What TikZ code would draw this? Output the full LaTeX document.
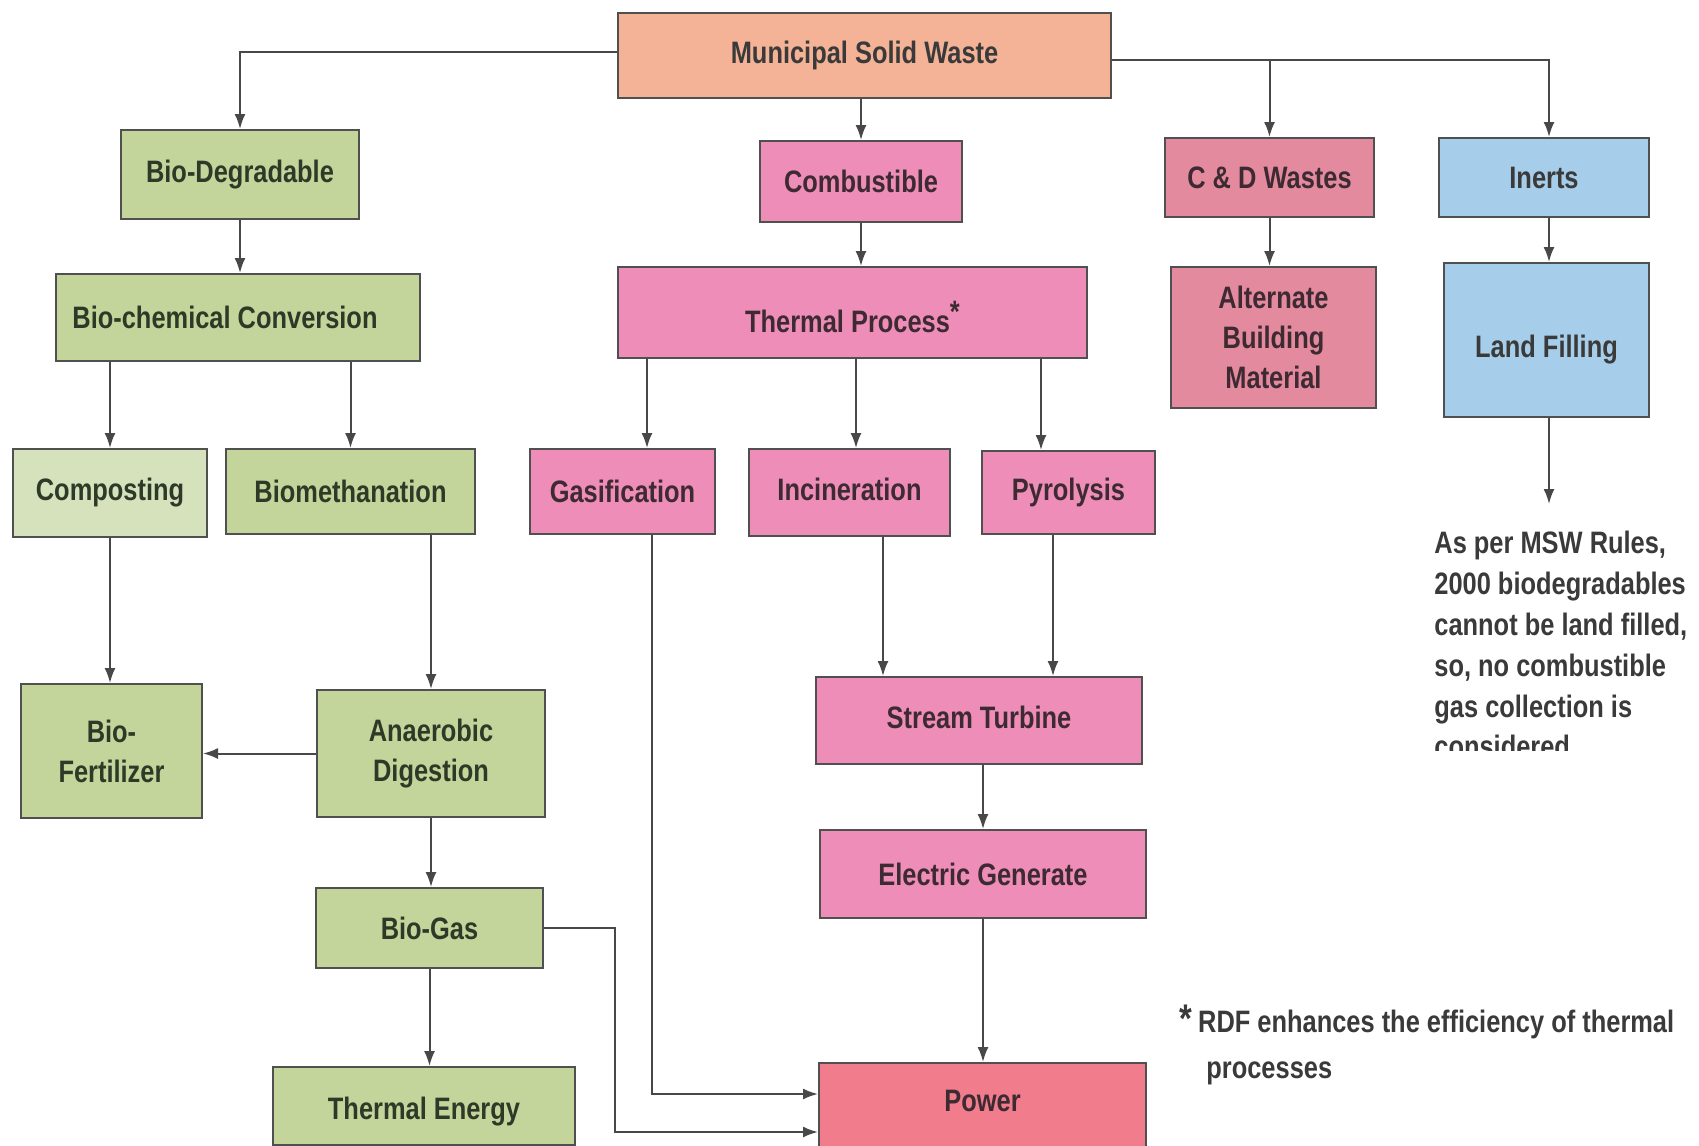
\documentclass[tikz,border=0pt]{standalone}
\usepackage{fontspec}
\setmainfont{Liberation Sans}[FakeStretch=0.82]
\usetikzlibrary{arrows.meta,calc}
\definecolor{mswfill}{RGB}{244,178,150}
\definecolor{greenfill}{RGB}{196,213,155}
\definecolor{lightgreen}{RGB}{214,226,188}
\definecolor{pinkfill}{RGB}{238,141,183}
\definecolor{rosefill}{RGB}{228,138,158}
\definecolor{bluefill}{RGB}{166,206,234}
\definecolor{powerfill}{RGB}{240,124,140}
\definecolor{boxline}{RGB}{80,80,80}
\definecolor{txt}{RGB}{58,58,58}
\definecolor{gtxt}{RGB}{46,58,40}
\definecolor{ptxt}{RGB}{62,42,50}
\newcommand\bxfont{\fontsize{15.5}{20}\selectfont\bfseries}
\newcommand\notefont{\fontsize{15.5}{20.4}\selectfont\bfseries}
\newcommand\fnfont{\fontsize{15.5}{23}\selectfont\bfseries}
\newcommand\shifttext[2]{\raisebox{#1}[\height][\depth]{#2}}
\begin{document}
\begin{tikzpicture}[x=0.5pt,y=-0.5pt,
  box/.style={draw=boxline, line width=1pt, inner sep=0pt, align=center, font=\bxfont, text=txt},
  gbox/.style={box, fill=greenfill, text=gtxt},
  pbox/.style={box, fill=pinkfill, text=ptxt},
  rbox/.style={box, fill=rosefill, text=ptxt},
  bbox/.style={box, fill=bluefill, text=txt},
  arr/.style={draw=boxline!90!black, line width=1pt, -{Latex[length=7.5pt,width=5.5pt]}},
  note/.style={inner sep=0pt, align=left, font=\bxfont, text=txt}]
\path[use as bounding box, fill=white] (0,0) rectangle (1699,1146);
\clip (0,0) rectangle (1699,1146);

% nodes
\node[box, fill=mswfill] (msw) at (864.5,55.5) [minimum width=246.5pt, minimum height=42.5pt] {Municipal Solid Waste};
\node[gbox] (biodeg) at (240,174.5) [minimum width=119pt, minimum height=44.5pt] {Bio-Degradable};
\node[pbox] (comb) at (861,181.5) [minimum width=101pt, minimum height=40.5pt] {Combustible};
\node[rbox] (cd) at (1269.5,177.5) [minimum width=104.5pt, minimum height=39.5pt] {C \& D Wastes};
\node[bbox] (inerts) at (1544,177.5) [minimum width=105pt, minimum height=39.5pt] {Inerts};
\node[gbox] (biochem) at (238,317.5) [minimum width=182pt, minimum height=43.5pt] {Bio-chemical Conversion\hspace*{13pt}};
\node[pbox] (thermal) at (852.5,312.5) [minimum width=234.5pt, minimum height=45.5pt] {\shifttext{-2pt}{Thermal Process\raisebox{5pt}{*}}};
\node[rbox] (alt) at (1273.5,337.5) [minimum width=102.5pt, minimum height=70.5pt] {Alternate\\Building\\Material};
\node[bbox] (land) at (1546.5,340) [minimum width=102.5pt, minimum height=77pt] {\shifttext{-5pt}{Land Filling}};
\node[gbox, fill=lightgreen] (compost) at (110,493) [minimum width=97pt, minimum height=44pt] {Composting};
\node[gbox] (biometh) at (350.5,491.5) [minimum width=124.5pt, minimum height=42.5pt] {Biomethanation};
\node[pbox] (gasif) at (622.5,491.5) [minimum width=92.5pt, minimum height=42.5pt] {Gasification};
\node[pbox] (incin) at (849.5,492.5) [minimum width=100.5pt, minimum height=43.5pt] {\shifttext{1.5pt}{Incineration}};
\node[pbox] (pyro) at (1068.5,492.5) [minimum width=86.5pt, minimum height=41.5pt] {Pyrolysis};
\node[gbox] (biofert) at (111.5,751) [minimum width=90.5pt, minimum height=67pt] {Bio-\\Fertilizer};
\node[gbox] (anaer) at (431,753.5) [minimum width=114pt, minimum height=63.5pt] {Anaerobic\\Digestion};
\node[pbox] (stream) at (979,720.5) [minimum width=163pt, minimum height=43.5pt] {\shifttext{1.5pt}{Stream Turbine}};
\node[pbox] (elec) at (983,874) [minimum width=163pt, minimum height=44pt] {Electric Generate};
\node[gbox] (biogas) at (429.5,928) [minimum width=113.5pt, minimum height=40pt] {Bio-Gas};
\node[gbox] (therme) at (424,1106) [minimum width=151pt, minimum height=39pt] {\shifttext{-3pt}{Thermal Energy}};
\node[box, fill=powerfill, anchor=north] (power) at (982.5,1062) [minimum width=163.5pt, minimum height=60pt] {};
\node[note, text=ptxt] (powerlbl) at (982.5,1101) {Power};

% notes
\begin{scope}
\clip (1400,480) rectangle (1699,750);
\node[note, anchor=north west, font=\notefont] (rules) at (1434,531) {As per MSW Rules,\\2000 biodegradables\\cannot be land filled,\\so, no combustible\\gas collection is\\considered};
\end{scope}
\node[note, anchor=base west, font=\fnfont] (rdf) at (1179,1078) {{\fontsize{20}{20}\selectfont *}\hspace{3pt}RDF enhances the efficiency of thermal\\\hspace*{13.5pt}processes};

% coordinates for connectors
\coordinate (mswl) at ([yshift=1.75pt]msw.west);
\coordinate (mswr) at ([yshift=-2.25pt]msw.east);
\coordinate (in1) at ([xshift=2.5pt]inerts.north);
\coordinate (ld1) at ([xshift=1.25pt]land.south);
\coordinate (g1) at ([xshift=12.25pt]gasif.north);
\coordinate (i1) at ([xshift=3.25pt]incin.north);
\coordinate (p1) at ([xshift=-13.75pt]pyro.north);
\coordinate (g2) at (652,1094);
\coordinate (bg2) at (615,1132);
\coordinate (i2) at (883,600);
\coordinate (p2) at (1053,600);
\coordinate (noteend) at (1549,504);

% connectors
\draw[arr] (mswl) -| (biodeg.north);
\draw[arr] (mswr) -| (in1);
\draw[arr] (mswr -| cd.north) -- (cd.north);
\draw[arr] (comb.north |- msw.south) -- (comb.north);
\draw[arr] (comb.south) -- (comb.south |- thermal.north);
\draw[arr] (biodeg.south) -- (biodeg.south |- biochem.north);
\draw[arr] (compost.north |- biochem.south) -- (compost.north);
\draw[arr] (biometh.north |- biochem.south) -- (biometh.north);
\draw[arr] (g1 |- thermal.south) -- (g1);
\draw[arr] (i1 |- thermal.south) -- (i1);
\draw[arr] (p1 |- thermal.south) -- (p1);
\draw[arr] (cd.south) -- (cd.south |- alt.north);
\draw[arr] (in1 |- inerts.south) -- (in1 |- land.north);
\draw[arr] (ld1) -- (ld1 |- noteend);
\draw[arr] (compost.south) -- (compost.south |- biofert.north);
\draw[arr] (anaer.north |- biometh.south) -- (anaer.north);
\draw[arr] (anaer.west) -- (anaer.west -| biofert.east);
\draw[arr] (anaer.south) -- (anaer.south |- biogas.north);
\draw[arr] (biogas.south) -- (biogas.south |- therme.north);
\draw[arr] (biogas.east) -| (bg2) -- (bg2 -| power.west);
\draw[arr] (gasif.south -| g2) -- (g2) -- (g2 -| power.west);
\draw[arr] (incin.south -| i2) -- (i2 |- stream.north);
\draw[arr] (pyro.south -| p2) -- (p2 |- stream.north);
\draw[arr] (elec.north |- stream.south) -- (elec.north);
\draw[arr] (elec.south) -- (elec.south |- power.north);
\end{tikzpicture}
\end{document}
